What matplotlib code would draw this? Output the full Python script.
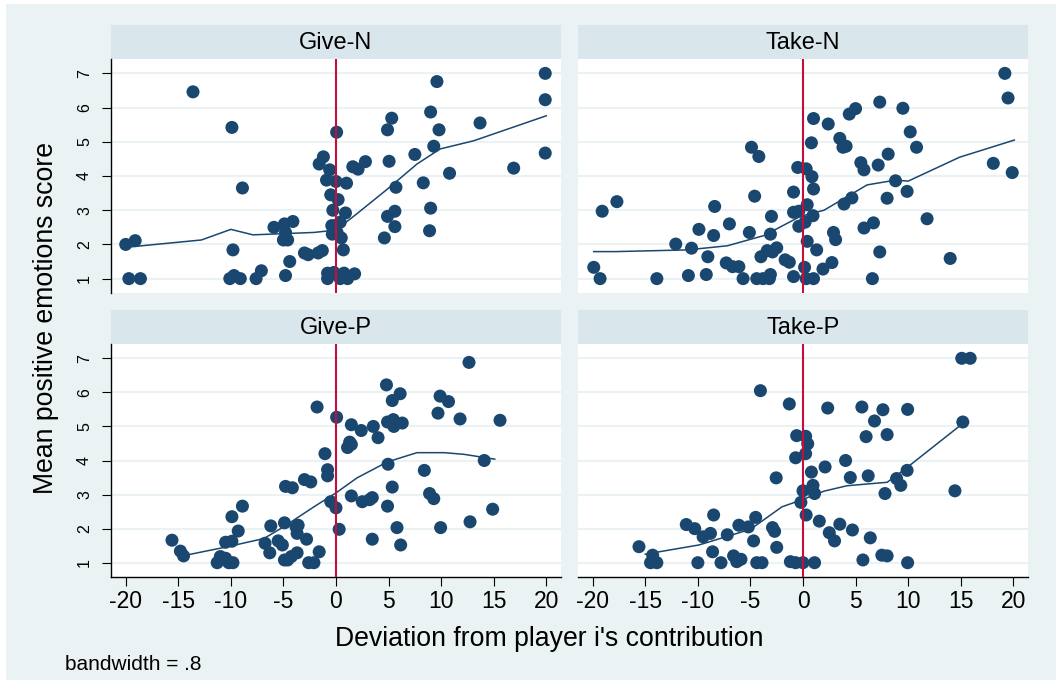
import numpy as np
import matplotlib
matplotlib.use("Agg")
import matplotlib.pyplot as plt
from matplotlib.patches import Rectangle

plt.rcParams['font.family'] = ['Liberation Sans', 'DejaVu Sans']

#
#   data: (deviation, mean positive emotions)
#
give_n = [(-20.0, 2.0), (-19.1, 2.11), (-19.7, 1.0), (-18.6, 1.0), (-13.6, 6.46), (-9.9, 5.42),
          (-9.8, 1.84), (-8.9, 3.65), (-10.1, 1.0), (-9.7, 1.09), (-9.1, 1.0), (-7.6, 1.0),
          (-7.1, 1.23), (-5.9, 2.5), (-4.9, 2.6), (-4.1, 2.67), (-4.8, 2.35), (-5.0, 2.13),
          (-4.6, 2.13), (-4.4, 1.5), (-4.8, 1.09), (-3.0, 1.75), (-2.65, 1.7), (-1.7, 1.75),
          (-1.3, 1.82), (-1.6, 4.35), (-1.2, 4.56), (-0.6, 4.18), (-0.9, 3.88), (0.0, 3.84),
          (1.0, 3.79), (-0.5, 3.45), (0.2, 3.31), (-0.3, 3.0), (0.9, 2.92), (-0.4, 2.55),
          (0.0, 2.55), (0.4, 2.65), (-0.35, 2.3), (0.1, 2.35), (0.5, 2.19), (0.7, 1.84),
          (0.06, 5.28), (-0.8, 1.16), (-0.2, 1.18), (0.76, 1.16), (1.77, 1.14), (-0.8, 1.0),
          (0.4, 1.0), (1.1, 1.0), (1.6, 4.27), (2.1, 4.2), (2.8, 4.42), (5.3, 5.69), (4.9, 5.35),
          (5.05, 4.43), (7.5, 4.63), (5.7, 3.67), (8.3, 3.8), (4.9, 2.82), (5.6, 2.97), (5.6, 2.52),
          (4.6, 2.19), (9.0, 3.06), (8.9, 2.4), (9.0, 5.87), (9.6, 6.76), (9.8, 5.35), (9.3, 4.87),
          (10.8, 4.08), (13.7, 5.55), (16.9, 4.23), (19.9, 7.0), (19.9, 6.23), (19.9, 4.67)]

take_n = [(-19.9, 1.33), (-19.3, 1.0), (-19.1, 2.97), (-17.7, 3.25), (-13.9, 1.0), (-12.1, 2.01),
          (-10.9, 1.09), (-10.6, 1.89), (-9.9, 2.44), (-9.2, 1.12), (-9.05, 1.64), (-8.5, 2.26),
          (-8.4, 3.11), (-7.3, 1.46), (-7.0, 2.6), (-6.7, 1.35), (-6.1, 1.35), (-5.7, 1.0),
          (-5.1, 2.35), (-4.9, 4.84), (-4.6, 3.41), (-4.2, 4.57), (-4.4, 1.0), (-3.8, 1.0),
          (-3.2, 1.0), (-3.1, 1.12), (-4.0, 1.64), (-3.4, 1.82), (-2.9, 1.78), (-2.5, 1.9),
          (-3.1, 2.3), (-3.0, 2.82), (-1.7, 1.55), (-1.3, 1.48), (-0.9, 1.06), (-0.9, 3.53),
          (-0.9, 2.94), (-0.4, 2.97), (-0.5, 4.25), (0.3, 4.21), (0.85, 3.98), (1.0, 3.62),
          (0.4, 3.16), (-0.4, 2.53), (0.2, 2.65), (0.95, 2.84), (0.4, 2.09), (0.15, 1.33),
          (0.3, 1.0), (1.0, 1.0), (1.3, 1.84), (1.9, 1.28), (2.75, 1.47), (0.8, 4.97), (1.0, 5.68),
          (2.4, 5.52), (3.5, 5.1), (3.8, 4.84), (4.1, 4.87), (2.9, 2.35), (3.1, 2.14), (3.9, 3.18),
          (4.65, 3.36), (4.4, 5.81), (5.0, 5.97), (5.5, 4.39), (5.8, 4.18), (5.8, 2.48), (6.7, 2.63),
          (6.6, 1.0), (7.3, 1.78), (7.15, 4.32), (7.3, 6.16), (8.1, 4.64), (8.8, 3.86), (8.0, 3.35),
          (9.5, 5.98), (9.9, 3.55), (10.2, 5.29), (10.8, 4.84), (11.8, 2.75), (14.0, 1.59),
          (18.1, 4.37), (19.2, 7.0), (19.5, 6.28), (19.9, 4.1)]

give_p = [(-15.6, 1.66), (-14.8, 1.34), (-14.5, 1.2), (-11.3, 1.0), (-11.0, 1.18), (-10.5, 1.13),
          (-10.2, 1.0), (-9.8, 1.0), (-10.5, 1.6), (-9.9, 1.63), (-9.9, 2.35), (-9.3, 1.93),
          (-8.9, 2.66), (-6.75, 1.57), (-6.3, 1.29), (-6.2, 2.08), (-5.5, 1.64), (-5.1, 1.52),
          (-4.8, 3.24), (-4.15, 3.2), (-4.9, 2.17), (-4.9, 1.08), (-4.6, 1.08), (-4.25, 1.18),
          (-3.7, 1.29), (-3.8, 2.05), (-3.6, 2.1), (-3.7, 1.86), (-2.8, 1.69), (-3.0, 3.44),
          (-2.4, 3.37), (-2.6, 1.0), (-2.1, 1.0), (-1.6, 1.32), (-1.8, 5.57), (-1.05, 4.2),
          (-0.8, 3.73), (-0.8, 3.55), (-0.5, 2.79), (0.0, 2.61), (0.3, 1.98), (0.06, 5.27),
          (1.46, 5.05), (1.1, 4.38), (1.46, 4.47), (1.3, 4.54), (2.4, 4.88), (3.55, 5.0), (4.0, 4.67),
          (1.46, 2.96), (2.5, 2.79), (3.2, 2.85), (3.45, 2.91), (3.45, 1.69), (4.9, 2.66), (4.8, 6.22),
          (5.35, 5.76), (6.1, 5.96), (4.9, 5.13), (5.45, 5.2), (5.5, 5.0), (6.3, 5.1), (4.95, 3.89),
          (5.35, 3.22), (5.8, 2.03), (6.15, 1.52), (8.4, 3.71), (8.9, 3.03), (9.3, 2.88), (9.95, 2.03),
          (9.9, 5.89), (10.7, 5.73), (9.7, 5.39), (11.8, 5.22), (12.65, 6.88), (12.75, 2.2),
          (14.1, 4.0), (14.9, 2.57), (15.6, 5.18)]

take_p = [(-15.6, 1.47), (-14.3, 1.22), (-14.5, 1.0), (-13.9, 1.0), (-11.1, 2.12), (-10.3, 2.0),
          (-9.5, 1.76), (-8.8, 1.86), (-10.0, 1.0), (-8.5, 2.4), (-8.6, 1.32), (-7.8, 1.0),
          (-7.2, 1.82), (-6.6, 1.2), (-6.3, 1.03), (-5.9, 1.1), (-6.1, 2.1), (-5.2, 2.05),
          (-4.7, 1.64), (-4.5, 2.33), (-4.4, 1.0), (-3.9, 1.0), (-4.05, 6.05), (-2.9, 2.03),
          (-2.7, 1.92), (-2.5, 1.45), (-2.55, 3.49), (-1.3, 5.66), (-1.2, 1.03), (-0.7, 1.0),
          (0.0, 1.0), (-0.6, 4.73), (0.25, 4.71), (0.45, 4.49), (-0.7, 4.08), (0.25, 4.2),
          (-0.2, 2.77), (0.0, 3.11), (0.3, 2.4), (0.8, 3.66), (0.95, 3.27), (1.1, 3.03), (1.1, 1.0),
          (1.55, 2.22), (2.1, 3.81), (2.35, 5.54), (2.5, 1.88), (3.0, 1.64), (3.5, 2.13), (4.05, 4.0),
          (4.5, 3.5), (4.7, 1.96), (5.6, 5.57), (5.7, 1.08), (6.0, 4.7), (6.2, 3.55), (6.4, 1.73),
          (6.8, 5.16), (7.6, 5.49), (7.8, 3.03), (8.0, 4.76), (7.5, 1.22), (8.0, 1.2), (8.9, 3.47),
          (9.3, 3.27), (9.9, 3.71), (9.95, 5.5), (9.95, 1.0), (14.45, 3.11), (15.1, 7.0),
          (15.9, 7.0), (15.2, 5.13)]

# lowess curves (bandwidth .8)
give_n_fit = [(-19.5, 1.93), (-12.8, 2.13), (-10.0, 2.44), (-7.9, 2.28), (-2.1, 2.35), (0.0, 2.42),
              (2.0, 2.9), (4.9, 3.62), (7.7, 4.35), (9.9, 4.79), (13.1, 5.03), (20.0, 5.76)]
take_n_fit = [(-19.9, 1.79), (-17.8, 1.79), (-11.0, 1.84), (-7.2, 1.96), (-3.7, 2.26), (-0.25, 2.82),
              (2.0, 3.0), (6.1, 3.74), (8.8, 3.88), (10.0, 3.85), (14.9, 4.55), (20.1, 5.05)]
give_p_fit = [(-14.6, 1.2), (-10.3, 1.47), (-6.85, 1.71), (-5.0, 2.05), (-2.1, 2.64), (0.0, 3.05),
              (2.0, 3.49), (4.9, 3.96), (7.7, 4.23), (10.3, 4.23), (12.2, 4.18), (15.1, 4.04)]
take_p_fit = [(-15.0, 1.25), (-9.9, 1.52), (-5.0, 1.98), (-2.0, 2.64), (-0.25, 2.83), (2.0, 3.1),
              (4.2, 3.26), (8.0, 3.36), (9.55, 3.71), (15.25, 5.1)]

titles = ["Give-N", "Take-N", "Give-P", "Take-P"]
xticks = [-20, -15, -10, -5, 0, 5, 10, 15, 20]
yticks = [1, 2, 3, 4, 5, 6, 7]

#
#   styling (Stata s2color look)
#
bg = "#EAF2F3"
strip = "#D9E6EB"
navy = "#1A476F"
red = "#C40F3C"

W, H = 1060, 683
fig = plt.figure(figsize=(W / 100, H / 100), dpi=100)
fig.patch.set_facecolor("white")
fig.patches.append(Rectangle((6 / W, 1 - 680 / H), 1050 / W, 676 / H,
                             transform=fig.transFigure, facecolor=bg,
                             edgecolor="none", zorder=-10))


def px_axes(x0, y0, x1, y1):
    return fig.add_axes([x0 / W, 1 - y1 / H, (x1 - x0) / W, (y1 - y0) / H])


cols = [(111, 561), (578, 1028)]
rows = [(25, 59, 293), (310, 344, 577)]

panels = [give_n, take_n, give_p, take_p]
fits = [give_n_fit, take_n_fit, give_p_fit, take_p_fit]

for i in range(4):
    r, c = i // 2, i % 2
    x0, x1 = cols[c]
    s0, p0, p1 = rows[r]

    # strip with panel title
    sax = px_axes(x0, s0, x1, p0)
    sax.set_facecolor(strip)
    sax.set_xticks([])
    sax.set_yticks([])
    for sp in sax.spines.values():
        sp.set_visible(False)
    sax.text(0.5, 0.47, titles[i], ha="center", va="center", fontsize=17,
             transform=sax.transAxes)

    ax = px_axes(x0, p0, x1, p1)
    ax.set_facecolor("white")
    pts = np.array(panels[i])
    fit = np.array(fits[i])
    ax.scatter(pts[:, 0], pts[:, 1], s=88, color=navy, edgecolors="none", zorder=3)
    ax.plot(fit[:, 0], fit[:, 1], color=navy, lw=1.1, zorder=4)
    ax.axvline(0, color=red, lw=1.5, zorder=5)

    ax.set_xlim(-21.4, 21.4)
    ax.set_ylim(0.58, 7.42)
    ax.set_xticks(xticks)
    ax.set_yticks(yticks)
    ax.grid(axis="y", color=bg, lw=1.5, zorder=0)
    ax.set_axisbelow(True)
    for sp in ax.spines.values():
        sp.set_visible(False)

    if c == 0:
        ax.spines["left"].set_visible(True)
        ax.spines["left"].set_linewidth(1.0)
        ax.tick_params(axis="y", length=6.7, width=0.8, pad=7, labelsize=11.5,
                       labelrotation=90)
        for lab in ax.get_yticklabels():
            lab.set_va("center")
    else:
        ax.tick_params(axis="y", left=False, labelleft=False)

    if r == 1:
        ax.spines["bottom"].set_visible(True)
        ax.spines["bottom"].set_linewidth(1.0)
        ax.tick_params(axis="x", length=6.7, width=0.8, pad=3, labelsize=16.5)
        ax.set_xticklabels([str(t) for t in xticks])
    else:
        ax.tick_params(axis="x", bottom=False, labelbottom=False)

fig.text(549 / W, 1 - 639 / H, "Deviation from player i's contribution",
         ha="center", va="center", fontsize=19.2)
fig.text(46 / W, 1 - 318 / H, "Mean positive emotions score",
         ha="center", va="center", rotation=90, fontsize=19.2)
fig.text(65 / W, 1 - 664 / H, "bandwidth = .8", ha="left", va="center", fontsize=15)

fig.savefig("out.png", dpi=100)
